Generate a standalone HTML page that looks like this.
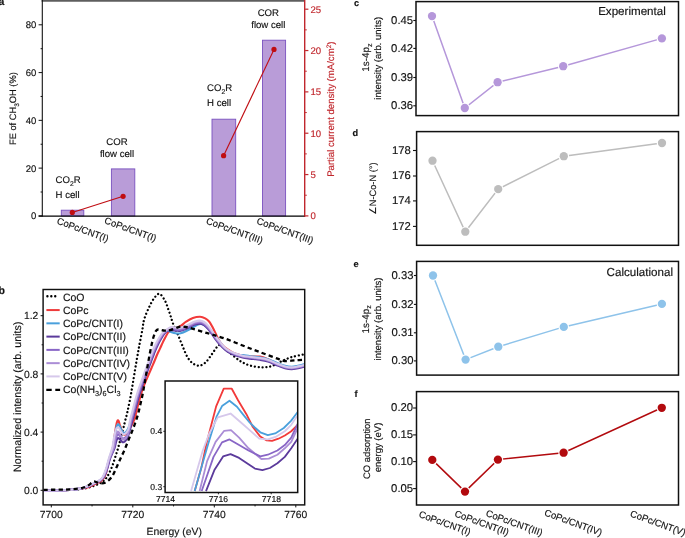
<!DOCTYPE html>
<html><head><meta charset="utf-8"><style>
html,body{margin:0;padding:0;background:#fff;overflow:hidden;width:685px;height:538px;}
svg{display:block;will-change:transform;font-family:"Liberation Sans",sans-serif;}
text{stroke-width:0.15px;text-rendering:geometricPrecision;}
</style></head><body>
<svg width="685" height="538" viewBox="0 0 685 538" fill="#111">
<text x="-1.5" y="4.6" font-size="10.5" font-weight="bold" stroke="#111">a</text>
<line x1="41.6" y1="0.85" x2="304.5" y2="0.85" stroke="#5e5e5e" stroke-width="1.7"/>
<line x1="42.3" y1="0" x2="42.3" y2="216.4" stroke="#111" stroke-width="1.1"/>
<line x1="304.7" y1="0" x2="304.7" y2="216.9" stroke="#c0272d" stroke-width="1.4"/>
<line x1="38.6" y1="215.90" x2="42.3" y2="215.90" stroke="#111" stroke-width="1"/>
<text x="36.3" y="219.30" font-size="9.5" text-anchor="end" fill="#111" stroke="#111">0</text>
<line x1="40.6" y1="192.01" x2="42.3" y2="192.01" stroke="#111" stroke-width="1"/>
<line x1="38.6" y1="168.12" x2="42.3" y2="168.12" stroke="#111" stroke-width="1"/>
<text x="36.3" y="171.53" font-size="9.5" text-anchor="end" fill="#111" stroke="#111">20</text>
<line x1="40.6" y1="144.24" x2="42.3" y2="144.24" stroke="#111" stroke-width="1"/>
<line x1="38.6" y1="120.35" x2="42.3" y2="120.35" stroke="#111" stroke-width="1"/>
<text x="36.3" y="123.75" font-size="9.5" text-anchor="end" fill="#111" stroke="#111">40</text>
<line x1="40.6" y1="96.46" x2="42.3" y2="96.46" stroke="#111" stroke-width="1"/>
<line x1="38.6" y1="72.58" x2="42.3" y2="72.58" stroke="#111" stroke-width="1"/>
<text x="36.3" y="75.98" font-size="9.5" text-anchor="end" fill="#111" stroke="#111">60</text>
<line x1="40.6" y1="48.69" x2="42.3" y2="48.69" stroke="#111" stroke-width="1"/>
<line x1="38.6" y1="24.80" x2="42.3" y2="24.80" stroke="#111" stroke-width="1"/>
<text x="36.3" y="28.20" font-size="9.5" text-anchor="end" fill="#111" stroke="#111">80</text>
<line x1="305.1" y1="215.90" x2="308.4" y2="215.90" stroke="#c0272d" stroke-width="1.2"/>
<text x="310.4" y="219.20" font-size="9.6" fill="#c0272d" stroke="#c0272d">0</text>
<line x1="305.1" y1="195.23" x2="306.8" y2="195.23" stroke="#c0272d" stroke-width="1"/>
<line x1="305.1" y1="174.56" x2="308.4" y2="174.56" stroke="#c0272d" stroke-width="1.2"/>
<text x="310.4" y="177.86" font-size="9.6" fill="#c0272d" stroke="#c0272d">5</text>
<line x1="305.1" y1="153.89" x2="306.8" y2="153.89" stroke="#c0272d" stroke-width="1"/>
<line x1="305.1" y1="133.22" x2="308.4" y2="133.22" stroke="#c0272d" stroke-width="1.2"/>
<text x="310.4" y="136.52" font-size="9.6" fill="#c0272d" stroke="#c0272d">10</text>
<line x1="305.1" y1="112.55" x2="306.8" y2="112.55" stroke="#c0272d" stroke-width="1"/>
<line x1="305.1" y1="91.88" x2="308.4" y2="91.88" stroke="#c0272d" stroke-width="1.2"/>
<text x="310.4" y="95.18" font-size="9.6" fill="#c0272d" stroke="#c0272d">15</text>
<line x1="305.1" y1="71.21" x2="306.8" y2="71.21" stroke="#c0272d" stroke-width="1"/>
<line x1="305.1" y1="50.54" x2="308.4" y2="50.54" stroke="#c0272d" stroke-width="1.2"/>
<text x="310.4" y="53.84" font-size="9.6" fill="#c0272d" stroke="#c0272d">20</text>
<line x1="305.1" y1="29.87" x2="306.8" y2="29.87" stroke="#c0272d" stroke-width="1"/>
<line x1="305.1" y1="9.20" x2="308.4" y2="9.20" stroke="#c0272d" stroke-width="1.2"/>
<text x="310.4" y="12.50" font-size="9.6" fill="#c0272d" stroke="#c0272d">25</text>
<rect x="61.30" y="210.20" width="22.50" height="5.70" fill="#b99cd8" stroke="#7a52c0" stroke-width="0.9"/>
<rect x="111.40" y="168.90" width="23.40" height="47.00" fill="#b99cd8" stroke="#7a52c0" stroke-width="0.9"/>
<rect x="212.00" y="119.20" width="23.70" height="96.70" fill="#b99cd8" stroke="#7a52c0" stroke-width="0.9"/>
<rect x="262.50" y="40.20" width="23.10" height="175.70" fill="#b99cd8" stroke="#7a52c0" stroke-width="0.9"/>
<line x1="38.6" y1="216.2" x2="304.3" y2="216.2" stroke="#000" stroke-width="1.3"/>
<path d="M72.30,212.40 L123.10,196.30" fill="none" stroke="#c00d12" stroke-width="1.1"/>
<path d="M223.60,155.70 L274.00,49.40" fill="none" stroke="#c00d12" stroke-width="1.1"/>
<circle cx="72.30" cy="212.40" r="2.6" fill="#c00d12"/>
<circle cx="123.10" cy="196.30" r="2.6" fill="#c00d12"/>
<circle cx="223.60" cy="155.70" r="2.6" fill="#c00d12"/>
<circle cx="274.00" cy="49.40" r="2.6" fill="#c00d12"/>
<text x="55.60" y="183.20" font-size="9.6" stroke="#111">CO<tspan font-size="6.8" dy="3.0">2</tspan><tspan dy="-3.0">R</tspan></text>
<text x="55.6" y="197.6" font-size="9.6" stroke="#111">H cell</text>
<text x="117" y="145.1" font-size="9.6" text-anchor="middle" stroke="#111">COR</text>
<text x="117" y="157.3" font-size="9.6" text-anchor="middle" stroke="#111">flow cell</text>
<text x="207.10" y="91.40" font-size="9.6" stroke="#111">CO<tspan font-size="6.8" dy="3.0">2</tspan><tspan dy="-3.0">R</tspan></text>
<text x="207.1" y="106.1" font-size="9.6" stroke="#111">H cell</text>
<text x="268.3" y="16.3" font-size="9.6" text-anchor="middle" stroke="#111">COR</text>
<text x="268.3" y="28.4" font-size="9.6" text-anchor="middle" stroke="#111">flow cell</text>
<text transform="translate(56.20,223.50) rotate(20)" font-size="9.5" stroke="#111">CoPc/CNT(I)</text>
<text transform="translate(103.80,223.10) rotate(20)" font-size="9.5" stroke="#111">CoPc/CNT(I)</text>
<text transform="translate(205.50,223.50) rotate(20)" font-size="9.5" stroke="#111">CoPc/CNT(III)</text>
<text transform="translate(256.00,223.50) rotate(20)" font-size="9.5" stroke="#111">CoPc/CNT(III)</text>
<text transform="translate(16.2,108.6) rotate(-90)" font-size="9.3" text-anchor="middle" stroke="#111">FE of CH<tspan font-size="6.5" dy="2.5">3</tspan><tspan dy="-2.5">OH (%)</tspan></text>
<text transform="translate(334.4,109.2) rotate(-90)" font-size="9.6" text-anchor="middle" fill="#c0272d" stroke="#c0272d">Partial current density (mA/cm<tspan font-size="6.5" dy="-3.3">2</tspan><tspan dy="3.3">)</tspan></text>
<text x="353.90" y="5.80" font-size="9.2" font-weight="bold" stroke="#111">c</text>
<rect x="416.00" y="1.60" width="262.50" height="114.00" fill="none" stroke="#111" stroke-width="1.5"/>
<line x1="413.30" y1="105.80" x2="416.00" y2="105.80" stroke="#111" stroke-width="1.1"/>
<text x="413.10" y="109.20" font-size="11.3" text-anchor="end" stroke="#111">0.36</text>
<line x1="413.30" y1="77.50" x2="416.00" y2="77.50" stroke="#111" stroke-width="1.1"/>
<text x="413.10" y="80.90" font-size="11.3" text-anchor="end" stroke="#111">0.39</text>
<line x1="413.30" y1="48.40" x2="416.00" y2="48.40" stroke="#111" stroke-width="1.1"/>
<text x="413.10" y="51.80" font-size="11.3" text-anchor="end" stroke="#111">0.42</text>
<line x1="413.30" y1="20.50" x2="416.00" y2="20.50" stroke="#111" stroke-width="1.1"/>
<text x="413.10" y="23.90" font-size="11.3" text-anchor="end" stroke="#111">0.45</text>
<path d="M432.00,16.10 L464.80,108.00 L497.60,82.20 L563.20,66.20 L661.90,38.40" fill="none" stroke="#b597da" stroke-width="1.5"/>
<circle cx="432.00" cy="16.10" r="5.3" fill="#fff"/>
<circle cx="432.00" cy="16.10" r="4.15" fill="#b597da"/>
<circle cx="464.80" cy="108.00" r="5.3" fill="#fff"/>
<circle cx="464.80" cy="108.00" r="4.15" fill="#b597da"/>
<circle cx="497.60" cy="82.20" r="5.3" fill="#fff"/>
<circle cx="497.60" cy="82.20" r="4.15" fill="#b597da"/>
<circle cx="563.20" cy="66.20" r="5.3" fill="#fff"/>
<circle cx="563.20" cy="66.20" r="4.15" fill="#b597da"/>
<circle cx="661.90" cy="38.40" r="5.3" fill="#fff"/>
<circle cx="661.90" cy="38.40" r="4.15" fill="#b597da"/>
<text transform="translate(369.40,57.60) rotate(-90)" font-size="9.90" text-anchor="middle" stroke="#111">1s-4p<tspan font-size="7" dy="2.3">z</tspan></text>
<text transform="translate(381.00,58.20) rotate(-90)" font-size="9.50" text-anchor="middle" stroke="#111">intensity (arb. units)</text>
<text x="665.80" y="15.20" font-size="11.6" text-anchor="end" stroke="#111">Experimental</text>
<text x="352.60" y="135.80" font-size="9.2" font-weight="bold" stroke="#111">d</text>
<rect x="416.60" y="131.60" width="261.90" height="113.70" fill="none" stroke="#111" stroke-width="1.5"/>
<line x1="413.00" y1="226.40" x2="416.60" y2="226.40" stroke="#111" stroke-width="1.1"/>
<text x="410.80" y="229.80" font-size="11.3" text-anchor="end" stroke="#111">172</text>
<line x1="413.00" y1="200.90" x2="416.60" y2="200.90" stroke="#111" stroke-width="1.1"/>
<text x="410.80" y="204.30" font-size="11.3" text-anchor="end" stroke="#111">174</text>
<line x1="413.00" y1="176.00" x2="416.60" y2="176.00" stroke="#111" stroke-width="1.1"/>
<text x="410.80" y="179.40" font-size="11.3" text-anchor="end" stroke="#111">176</text>
<line x1="413.00" y1="150.50" x2="416.60" y2="150.50" stroke="#111" stroke-width="1.1"/>
<text x="410.80" y="153.90" font-size="11.3" text-anchor="end" stroke="#111">178</text>
<path d="M432.50,160.70 L465.30,231.70 L498.20,189.10 L563.80,156.20 L662.00,143.00" fill="none" stroke="#bdbdbd" stroke-width="1.5"/>
<circle cx="432.50" cy="160.70" r="5.3" fill="#fff"/>
<circle cx="432.50" cy="160.70" r="4.15" fill="#bdbdbd"/>
<circle cx="465.30" cy="231.70" r="5.3" fill="#fff"/>
<circle cx="465.30" cy="231.70" r="4.15" fill="#bdbdbd"/>
<circle cx="498.20" cy="189.10" r="5.3" fill="#fff"/>
<circle cx="498.20" cy="189.10" r="4.15" fill="#bdbdbd"/>
<circle cx="563.80" cy="156.20" r="5.3" fill="#fff"/>
<circle cx="563.80" cy="156.20" r="4.15" fill="#bdbdbd"/>
<circle cx="662.00" cy="143.00" r="5.3" fill="#fff"/>
<circle cx="662.00" cy="143.00" r="4.15" fill="#bdbdbd"/>
<text transform="translate(376.00,188.50) rotate(-90)" font-size="9.30" text-anchor="middle" stroke="#111">∠N-Co-N (°)</text>
<text x="353.60" y="266.90" font-size="9.2" font-weight="bold" stroke="#111">e</text>
<rect x="416.60" y="261.40" width="261.90" height="113.70" fill="none" stroke="#111" stroke-width="1.5"/>
<line x1="413.90" y1="360.90" x2="416.60" y2="360.90" stroke="#111" stroke-width="1.1"/>
<text x="413.50" y="364.30" font-size="11.3" text-anchor="end" stroke="#111">0.30</text>
<line x1="413.90" y1="332.80" x2="416.60" y2="332.80" stroke="#111" stroke-width="1.1"/>
<text x="413.50" y="336.20" font-size="11.3" text-anchor="end" stroke="#111">0.31</text>
<line x1="413.90" y1="304.40" x2="416.60" y2="304.40" stroke="#111" stroke-width="1.1"/>
<text x="413.50" y="307.80" font-size="11.3" text-anchor="end" stroke="#111">0.32</text>
<line x1="413.90" y1="275.50" x2="416.60" y2="275.50" stroke="#111" stroke-width="1.1"/>
<text x="413.50" y="278.90" font-size="11.3" text-anchor="end" stroke="#111">0.33</text>
<path d="M433.00,275.50 L465.60,359.60 L498.30,346.70 L563.80,326.90 L661.90,303.90" fill="none" stroke="#8ec3ea" stroke-width="1.5"/>
<circle cx="433.00" cy="275.50" r="5.3" fill="#fff"/>
<circle cx="433.00" cy="275.50" r="4.15" fill="#8ec3ea"/>
<circle cx="465.60" cy="359.60" r="5.3" fill="#fff"/>
<circle cx="465.60" cy="359.60" r="4.15" fill="#8ec3ea"/>
<circle cx="498.30" cy="346.70" r="5.3" fill="#fff"/>
<circle cx="498.30" cy="346.70" r="4.15" fill="#8ec3ea"/>
<circle cx="563.80" cy="326.90" r="5.3" fill="#fff"/>
<circle cx="563.80" cy="326.90" r="4.15" fill="#8ec3ea"/>
<circle cx="661.90" cy="303.90" r="5.3" fill="#fff"/>
<circle cx="661.90" cy="303.90" r="4.15" fill="#8ec3ea"/>
<text transform="translate(368.60,319.30) rotate(-90)" font-size="9.90" text-anchor="middle" stroke="#111">1s-4p<tspan font-size="7" dy="2.3">z</tspan></text>
<text transform="translate(381.00,319.00) rotate(-90)" font-size="9.50" text-anchor="middle" stroke="#111">intensity (arb. units)</text>
<text x="673.00" y="276.30" font-size="11.6" text-anchor="end" stroke="#111">Calculational</text>
<text x="354.50" y="396.70" font-size="9.2" font-weight="bold" stroke="#111">f</text>
<rect x="416.50" y="391.60" width="262.00" height="113.40" fill="none" stroke="#111" stroke-width="1.5"/>
<line x1="413.10" y1="488.60" x2="416.50" y2="488.60" stroke="#111" stroke-width="1.1"/>
<text x="413.10" y="492.00" font-size="11.3" text-anchor="end" stroke="#111">0.05</text>
<line x1="413.10" y1="461.60" x2="416.50" y2="461.60" stroke="#111" stroke-width="1.1"/>
<text x="413.10" y="465.00" font-size="11.3" text-anchor="end" stroke="#111">0.10</text>
<line x1="413.10" y1="434.90" x2="416.50" y2="434.90" stroke="#111" stroke-width="1.1"/>
<text x="413.10" y="438.30" font-size="11.3" text-anchor="end" stroke="#111">0.15</text>
<line x1="413.10" y1="408.00" x2="416.50" y2="408.00" stroke="#111" stroke-width="1.1"/>
<text x="413.10" y="411.40" font-size="11.3" text-anchor="end" stroke="#111">0.20</text>
<path d="M432.30,459.90 L465.00,491.60 L497.90,459.60 L563.60,452.70 L661.80,407.80" fill="none" stroke="#b20a0e" stroke-width="1.5"/>
<circle cx="432.30" cy="459.90" r="5.3" fill="#fff"/>
<circle cx="432.30" cy="459.90" r="4.15" fill="#b20a0e"/>
<circle cx="465.00" cy="491.60" r="5.3" fill="#fff"/>
<circle cx="465.00" cy="491.60" r="4.15" fill="#b20a0e"/>
<circle cx="497.90" cy="459.60" r="5.3" fill="#fff"/>
<circle cx="497.90" cy="459.60" r="4.15" fill="#b20a0e"/>
<circle cx="563.60" cy="452.70" r="5.3" fill="#fff"/>
<circle cx="563.60" cy="452.70" r="4.15" fill="#b20a0e"/>
<circle cx="661.80" cy="407.80" r="5.3" fill="#fff"/>
<circle cx="661.80" cy="407.80" r="4.15" fill="#b20a0e"/>
<text transform="translate(369.80,448.70) rotate(-90)" font-size="9.40" text-anchor="middle" stroke="#111">CO adsorption</text>
<text transform="translate(380.60,447.50) rotate(-90)" font-size="9.50" text-anchor="middle" stroke="#111">energy (eV)</text>
<text transform="translate(418.20,516.80) rotate(20)" font-size="9.5" stroke="#111">CoPc/CNT(I)</text>
<text transform="translate(453.90,516.20) rotate(20)" font-size="9.5" stroke="#111">CoPc/CNT(II)</text>
<text transform="translate(485.20,515.80) rotate(20)" font-size="9.5" stroke="#111">CoPc/CNT(III)</text>
<text transform="translate(543.70,515.20) rotate(20)" font-size="9.5" stroke="#111">CoPc/CNT(IV)</text>
<text transform="translate(629.60,516.20) rotate(20)" font-size="9.5" stroke="#111">CoPc/CNT(V)</text>
<text x="-1.4" y="293.7" font-size="10.5" font-weight="bold" stroke="#111">b</text>
<defs><clipPath id="cb"><rect x="43.10" y="289.50" width="261.60" height="215.40"/></clipPath><clipPath id="ci"><rect x="165.1" y="381" width="132.6" height="111.7"/></clipPath></defs>
<g clip-path="url(#cb)" fill="none" stroke-linejoin="round">
<path d="M43.50,490.30 C46.25,490.28 54.75,490.32 60.00,490.20 C65.25,490.08 70.83,489.90 75.00,489.60 C79.17,489.30 82.00,488.97 85.00,488.40 C88.00,487.83 90.67,486.97 93.00,486.20 C95.33,485.43 97.33,484.63 99.00,483.80 C100.67,482.97 101.83,482.10 103.00,481.20 C104.17,480.30 105.00,479.68 106.00,478.40 C107.00,477.12 107.95,475.57 109.00,473.50 C110.05,471.43 111.30,468.62 112.30,466.00 C113.30,463.38 114.08,460.63 115.00,457.80 C115.92,454.97 116.78,452.50 117.80,449.00 C118.82,445.50 119.98,441.07 121.10,436.80 C122.22,432.53 123.47,427.48 124.50,423.40 C125.53,419.32 126.37,416.38 127.30,412.30 C128.23,408.22 129.18,403.70 130.10,398.90 C131.02,394.10 131.82,389.32 132.80,383.50 C133.78,377.68 134.93,370.25 136.00,364.00 C137.07,357.75 138.13,351.75 139.20,346.00 C140.27,340.25 141.60,333.83 142.40,329.50 C143.20,325.17 143.00,323.47 144.00,320.00 C145.00,316.53 146.75,312.28 148.40,308.70 C150.05,305.12 152.05,300.98 153.90,298.50 C155.75,296.02 157.65,293.42 159.50,293.80 C161.35,294.18 163.55,298.25 165.00,300.80 C166.45,303.35 167.23,306.47 168.20,309.10 C169.17,311.73 169.97,314.12 170.80,316.60 C171.63,319.08 172.05,321.08 173.20,324.00 C174.35,326.92 176.15,330.43 177.70,334.10 C179.25,337.77 180.88,342.18 182.50,346.00 C184.12,349.82 185.65,354.08 187.40,357.00 C189.15,359.92 190.97,362.05 193.00,363.50 C195.03,364.95 197.43,365.95 199.60,365.70 C201.77,365.45 203.93,363.95 206.00,362.00 C208.07,360.05 210.17,356.50 212.00,354.00 C213.83,351.50 215.55,348.50 217.00,347.00 C218.45,345.50 219.20,344.58 220.70,345.00 C222.20,345.42 223.95,347.75 226.00,349.50 C228.05,351.25 230.50,353.50 233.00,355.50 C235.50,357.50 238.17,359.83 241.00,361.50 C243.83,363.17 246.53,364.52 250.00,365.50 C253.47,366.48 258.13,367.32 261.80,367.40 C265.47,367.48 268.63,367.07 272.00,366.00 C275.37,364.93 278.67,362.50 282.00,361.00 C285.33,359.50 288.08,358.17 292.00,357.00 C295.92,355.83 303.25,354.50 305.50,354.00" stroke="#000" stroke-width="2.3" stroke-dasharray="0.01,3.85" stroke-linecap="round"/>
<path d="M43.50,490.60 C45.42,490.58 51.42,490.57 55.00,490.50 C58.58,490.43 62.00,490.35 65.00,490.20 C68.00,490.05 70.50,489.87 73.00,489.60 C75.50,489.33 77.75,488.90 80.00,488.60 C82.25,488.30 84.58,488.27 86.50,487.80 C88.42,487.33 90.00,486.47 91.50,485.80 C93.00,485.13 94.25,484.42 95.50,483.80 C96.75,483.18 98.00,482.63 99.00,482.10 C100.00,481.57 100.67,481.32 101.50,480.60 C102.33,479.88 103.25,479.02 104.00,477.80 C104.75,476.58 105.42,475.18 106.00,473.30 C106.58,471.42 106.92,468.88 107.50,466.50 C108.08,464.12 108.61,462.12 109.50,459.00 C110.39,455.88 112.13,450.69 112.86,447.79 C113.59,444.89 113.57,443.80 113.89,441.61 C114.21,439.42 114.39,437.31 114.77,434.65 C115.15,431.99 115.72,427.93 116.15,425.64 C116.58,423.34 116.94,421.66 117.34,420.87 C117.74,420.08 118.19,420.36 118.56,420.87 C118.93,421.38 119.17,422.83 119.55,423.96 C119.93,425.08 120.46,426.43 120.84,427.60 C121.22,428.77 121.47,429.98 121.83,430.97 C122.18,431.95 122.62,432.90 122.98,433.49 C123.34,434.08 123.67,434.31 123.97,434.50 C124.27,434.68 124.49,434.69 124.79,434.61 C125.10,434.54 125.45,434.28 125.78,434.05 C126.11,433.82 126.44,433.54 126.77,433.21 C127.10,432.88 127.43,432.55 127.76,432.09 C128.09,431.62 127.68,432.42 128.75,430.40 C129.82,428.39 132.72,423.90 134.20,420.00 C135.68,416.10 136.35,411.68 137.60,407.00 C138.85,402.32 140.47,395.90 141.70,391.90 C142.93,387.90 143.88,385.78 145.00,383.00 C146.12,380.22 147.32,377.70 148.40,375.20 C149.48,372.70 150.52,370.28 151.50,368.00 C152.48,365.72 153.32,363.83 154.30,361.50 C155.28,359.17 156.43,356.18 157.40,354.00 C158.37,351.82 159.22,350.30 160.10,348.40 C160.98,346.50 161.83,344.42 162.70,342.60 C163.57,340.78 164.42,339.17 165.30,337.50 C166.18,335.83 167.12,333.75 168.00,332.60 C168.88,331.45 169.35,331.28 170.60,330.60 C171.85,329.92 173.82,329.27 175.50,328.50 C177.18,327.73 178.98,327.10 180.70,326.00 C182.42,324.90 183.77,323.22 185.80,321.90 C187.83,320.58 190.52,318.95 192.90,318.10 C195.28,317.25 198.05,316.75 200.10,316.80 C202.15,316.85 203.67,317.57 205.20,318.40 C206.73,319.23 208.13,320.45 209.30,321.80 C210.47,323.15 211.27,324.80 212.20,326.50 C213.13,328.20 213.83,329.78 214.90,332.00 C215.97,334.22 217.25,337.50 218.60,339.80 C219.95,342.10 221.45,344.17 223.00,345.80 C224.55,347.43 226.23,348.47 227.90,349.60 C229.57,350.73 230.98,351.70 233.00,352.60 C235.02,353.50 237.17,354.33 240.00,355.00 C242.83,355.67 246.67,356.33 250.00,356.60 C253.33,356.87 257.00,356.17 260.00,356.60 C263.00,357.03 265.07,357.97 268.00,359.20 C270.93,360.43 274.77,362.73 277.60,364.00 C280.43,365.27 282.67,366.20 285.00,366.80 C287.33,367.40 289.43,367.63 291.60,367.60 C293.77,367.57 295.68,367.07 298.00,366.60 C300.32,366.13 304.25,365.10 305.50,364.80" stroke="#f23a3a" stroke-width="2.1"/>
<path d="M43.20,490.60 C45.12,490.58 51.12,490.57 54.70,490.50 C58.28,490.43 61.70,490.35 64.70,490.20 C67.70,490.05 70.20,489.87 72.70,489.60 C75.20,489.33 77.53,489.03 79.70,488.60 C81.87,488.17 83.87,487.60 85.70,487.00 C87.53,486.40 89.20,485.67 90.70,485.00 C92.20,484.33 93.45,483.62 94.70,483.00 C95.95,482.38 97.20,481.83 98.20,481.30 C99.20,480.77 99.87,480.52 100.70,479.80 C101.53,479.08 102.45,478.22 103.20,477.00 C103.95,475.78 104.53,474.25 105.20,472.50 C105.87,470.75 106.53,468.75 107.20,466.50 C107.87,464.25 108.26,462.12 109.20,459.00 C110.14,455.88 112.08,450.69 112.86,447.79 C113.64,444.89 113.55,443.66 113.89,441.61 C114.24,439.55 114.54,437.69 114.93,435.45 C115.33,433.21 115.89,429.82 116.25,428.16 C116.61,426.50 116.75,426.15 117.08,425.47 C117.41,424.79 117.84,424.04 118.23,424.07 C118.61,424.09 119.03,425.03 119.38,425.64 C119.74,426.24 120.01,427.01 120.34,427.71 C120.67,428.42 121.06,429.28 121.36,429.84 C121.66,430.41 121.86,430.68 122.13,431.10 C122.40,431.52 122.65,432.03 122.98,432.36 C123.32,432.70 123.76,433.05 124.14,433.10 C124.52,433.15 124.87,432.96 125.28,432.65 C125.69,432.34 126.20,431.79 126.61,431.23 C127.02,430.67 127.40,429.99 127.75,429.29 C128.11,428.59 128.20,428.58 128.76,427.03 C129.31,425.48 130.23,423.01 131.10,420.00 C131.97,416.99 133.02,412.75 134.00,409.00 C134.98,405.25 136.02,400.95 137.00,397.50 C137.98,394.05 138.93,391.18 139.90,388.30 C140.87,385.42 141.75,383.17 142.80,380.20 C143.85,377.23 145.08,373.57 146.20,370.50 C147.32,367.43 148.47,364.55 149.50,361.80 C150.53,359.05 151.42,356.52 152.40,354.00 C153.38,351.48 154.23,349.20 155.40,346.70 C156.57,344.20 158.15,341.18 159.40,339.00 C160.65,336.82 161.73,335.02 162.90,333.60 C164.07,332.18 165.15,330.80 166.40,330.50 C167.65,330.20 168.88,331.33 170.40,331.80 C171.92,332.27 173.78,333.05 175.50,333.30 C177.22,333.55 178.98,333.63 180.70,333.30 C182.42,332.97 183.77,332.27 185.80,331.30 C187.83,330.33 190.70,328.68 192.90,327.50 C195.10,326.32 197.12,324.62 199.00,324.20 C200.88,323.78 202.48,324.17 204.20,325.00 C205.92,325.83 207.43,327.28 209.30,329.20 C211.17,331.12 213.62,334.32 215.40,336.50 C217.18,338.68 218.40,340.28 220.00,342.30 C221.60,344.32 223.33,346.98 225.00,348.60 C226.67,350.22 228.17,351.00 230.00,352.00 C231.83,353.00 233.90,354.08 236.00,354.60 C238.10,355.12 240.27,354.83 242.60,355.10 C244.93,355.37 247.10,355.82 250.00,356.20 C252.90,356.58 257.00,356.90 260.00,357.40 C263.00,357.90 265.07,358.23 268.00,359.20 C270.93,360.17 274.77,362.10 277.60,363.20 C280.43,364.30 282.67,365.20 285.00,365.80 C287.33,366.40 289.43,366.80 291.60,366.80 C293.77,366.80 295.68,366.27 298.00,365.80 C300.32,365.33 304.25,364.30 305.50,364.00" stroke="#4aa0dc" stroke-width="2.1"/>
<path d="M43.95,490.60 C45.87,490.58 51.87,490.57 55.45,490.50 C59.03,490.43 62.45,490.35 65.45,490.20 C68.45,490.05 70.95,489.87 73.45,489.60 C75.95,489.33 78.28,489.03 80.45,488.60 C82.62,488.17 84.62,487.60 86.45,487.00 C88.28,486.40 89.95,485.67 91.45,485.00 C92.95,484.33 94.20,483.62 95.45,483.00 C96.70,482.38 97.95,481.83 98.95,481.30 C99.95,480.77 100.62,480.52 101.45,479.80 C102.28,479.08 103.20,478.22 103.95,477.00 C104.70,475.78 105.28,474.25 105.95,472.50 C106.62,470.75 107.28,468.75 107.95,466.50 C108.62,464.25 108.84,462.12 109.95,459.00 C111.06,455.88 113.61,450.59 114.60,447.79 C115.60,444.99 115.48,443.70 115.92,442.19 C116.36,440.67 116.83,439.39 117.24,438.71 C117.65,438.02 117.98,438.02 118.39,438.09 C118.81,438.15 119.25,438.64 119.71,439.09 C120.17,439.53 120.76,440.31 121.16,440.78 C121.57,441.25 121.79,441.64 122.15,441.90 C122.51,442.15 122.92,442.32 123.31,442.29 C123.69,442.26 124.08,442.04 124.47,441.74 C124.85,441.44 125.24,440.99 125.62,440.50 C126.01,440.02 126.41,439.48 126.77,438.82 C127.12,438.17 127.43,437.36 127.76,436.56 C128.09,435.77 127.94,436.80 128.75,434.04 C129.56,431.28 131.47,424.17 132.60,420.00 C133.73,415.83 134.52,412.75 135.50,409.00 C136.48,405.25 137.52,400.95 138.50,397.50 C139.48,394.05 140.43,391.18 141.40,388.30 C142.37,385.42 143.25,383.17 144.30,380.20 C145.35,377.23 146.58,373.57 147.70,370.50 C148.82,367.43 149.97,364.55 151.00,361.80 C152.03,359.05 152.92,356.52 153.90,354.00 C154.88,351.48 155.73,349.20 156.90,346.70 C158.07,344.20 159.65,341.18 160.90,339.00 C162.15,336.82 163.23,335.02 164.40,333.60 C165.57,332.18 166.77,331.07 167.90,330.50 C169.03,329.93 169.85,330.17 171.20,330.20 C172.55,330.23 174.53,330.58 176.00,330.70 C177.47,330.82 178.50,331.12 180.00,330.90 C181.50,330.68 183.33,330.07 185.00,329.40 C186.67,328.73 188.33,327.72 190.00,326.90 C191.67,326.08 193.33,325.03 195.00,324.50 C196.67,323.97 198.50,323.60 200.00,323.70 C201.50,323.80 202.67,324.27 204.00,325.10 C205.33,325.93 206.67,327.20 208.00,328.70 C209.33,330.20 210.67,332.23 212.00,334.10 C213.33,335.97 214.67,338.10 216.00,339.90 C217.33,341.70 218.50,343.28 220.00,344.90 C221.50,346.52 223.33,348.25 225.00,349.60 C226.67,350.95 228.17,352.00 230.00,353.00 C231.83,354.00 233.90,354.85 236.00,355.60 C238.10,356.35 240.27,357.00 242.60,357.50 C244.93,358.00 247.10,358.22 250.00,358.60 C252.90,358.98 257.00,359.30 260.00,359.80 C263.00,360.30 265.07,360.63 268.00,361.60 C270.93,362.57 274.77,364.50 277.60,365.60 C280.43,366.70 282.67,367.60 285.00,368.20 C287.33,368.80 289.43,369.20 291.60,369.20 C293.77,369.20 295.68,368.67 298.00,368.20 C300.32,367.73 304.25,366.70 305.50,366.40" stroke="#5b3a9b" stroke-width="2.1"/>
<path d="M43.50,490.60 C45.42,490.58 51.42,490.57 55.00,490.50 C58.58,490.43 62.00,490.35 65.00,490.20 C68.00,490.05 70.50,489.87 73.00,489.60 C75.50,489.33 77.83,489.03 80.00,488.60 C82.17,488.17 84.17,487.60 86.00,487.00 C87.83,486.40 89.50,485.67 91.00,485.00 C92.50,484.33 93.75,483.62 95.00,483.00 C96.25,482.38 97.50,481.83 98.50,481.30 C99.50,480.77 100.17,480.52 101.00,479.80 C101.83,479.08 102.75,478.22 103.50,477.00 C104.25,475.78 104.83,474.25 105.50,472.50 C106.17,470.75 106.83,468.75 107.50,466.50 C108.17,464.25 108.43,462.12 109.50,459.00 C110.57,455.88 113.05,450.40 113.94,447.79 C114.83,445.18 114.54,444.81 114.85,443.31 C115.15,441.82 115.39,440.21 115.76,438.82 C116.13,437.44 116.66,435.77 117.07,435.00 C117.48,434.24 117.79,434.11 118.23,434.23 C118.67,434.35 119.22,435.24 119.71,435.72 C120.20,436.21 120.62,436.65 121.16,437.14 C121.71,437.64 122.49,438.51 122.98,438.69 C123.48,438.88 123.70,438.50 124.14,438.25 C124.58,437.99 125.19,437.56 125.62,437.14 C126.06,436.72 126.41,436.29 126.77,435.72 C127.12,435.16 127.43,434.70 127.76,433.77 C128.09,432.84 128.09,432.42 128.75,430.13 C129.41,427.84 130.72,423.52 131.70,420.00 C132.68,416.48 133.62,412.75 134.60,409.00 C135.58,405.25 136.62,400.95 137.60,397.50 C138.58,394.05 139.53,391.18 140.50,388.30 C141.47,385.42 142.35,383.17 143.40,380.20 C144.45,377.23 145.68,373.57 146.80,370.50 C147.92,367.43 149.07,364.55 150.10,361.80 C151.13,359.05 152.02,356.52 153.00,354.00 C153.98,351.48 154.83,349.20 156.00,346.70 C157.17,344.20 158.75,341.18 160.00,339.00 C161.25,336.82 162.33,335.02 163.50,333.60 C164.67,332.18 165.72,331.22 167.00,330.50 C168.28,329.78 169.70,329.42 171.20,329.30 C172.70,329.18 174.53,329.68 176.00,329.80 C177.47,329.92 178.50,330.22 180.00,330.00 C181.50,329.78 183.33,329.17 185.00,328.50 C186.67,327.83 188.33,326.82 190.00,326.00 C191.67,325.18 193.33,324.13 195.00,323.60 C196.67,323.07 198.50,322.70 200.00,322.80 C201.50,322.90 202.67,323.37 204.00,324.20 C205.33,325.03 206.67,326.30 208.00,327.80 C209.33,329.30 210.67,331.33 212.00,333.20 C213.33,335.07 214.67,337.20 216.00,339.00 C217.33,340.80 218.50,342.37 220.00,344.00 C221.50,345.63 223.33,347.43 225.00,348.80 C226.67,350.17 228.17,351.20 230.00,352.20 C231.83,353.20 233.90,354.05 236.00,354.80 C238.10,355.55 240.27,356.20 242.60,356.70 C244.93,357.20 247.10,357.42 250.00,357.80 C252.90,358.18 257.00,358.50 260.00,359.00 C263.00,359.50 265.07,359.83 268.00,360.80 C270.93,361.77 274.77,363.70 277.60,364.80 C280.43,365.90 282.67,366.80 285.00,367.40 C287.33,368.00 289.43,368.40 291.60,368.40 C293.77,368.40 295.68,367.87 298.00,367.40 C300.32,366.93 304.25,365.90 305.50,365.60" stroke="#8966c6" stroke-width="2.1"/>
<path d="M43.15,490.60 C45.07,490.58 51.07,490.57 54.65,490.50 C58.23,490.43 61.65,490.35 64.65,490.20 C67.65,490.05 70.15,489.87 72.65,489.60 C75.15,489.33 77.48,489.03 79.65,488.60 C81.82,488.17 83.82,487.60 85.65,487.00 C87.48,486.40 89.15,485.67 90.65,485.00 C92.15,484.33 93.40,483.62 94.65,483.00 C95.90,482.38 97.15,481.83 98.15,481.30 C99.15,480.77 99.82,480.52 100.65,479.80 C101.48,479.08 102.40,478.22 103.15,477.00 C103.90,475.78 104.48,474.25 105.15,472.50 C105.82,470.75 106.48,468.75 107.15,466.50 C107.82,464.25 108.07,462.12 109.15,459.00 C110.23,455.88 112.68,450.97 113.61,447.79 C114.55,444.61 114.36,442.08 114.77,439.93 C115.18,437.78 115.64,436.21 116.08,434.88 C116.52,433.56 117.01,432.48 117.41,431.97 C117.81,431.46 118.08,431.51 118.46,431.81 C118.84,432.11 119.26,432.98 119.71,433.77 C120.16,434.56 120.59,435.63 121.16,436.56 C121.74,437.50 122.63,438.92 123.15,439.38 C123.68,439.83 123.88,439.46 124.30,439.27 C124.71,439.08 125.21,438.70 125.62,438.25 C126.03,437.79 126.41,437.13 126.77,436.56 C127.12,436.00 127.43,435.77 127.76,434.88 C128.09,434.00 128.21,433.71 128.75,431.23 C129.29,428.75 130.14,423.71 131.00,420.00 C131.86,416.29 132.92,412.75 133.90,409.00 C134.88,405.25 135.92,400.95 136.90,397.50 C137.88,394.05 138.83,391.18 139.80,388.30 C140.77,385.42 141.65,383.17 142.70,380.20 C143.75,377.23 144.98,373.57 146.10,370.50 C147.22,367.43 148.37,364.55 149.40,361.80 C150.43,359.05 151.32,356.52 152.30,354.00 C153.28,351.48 154.13,349.20 155.30,346.70 C156.47,344.20 158.05,341.18 159.30,339.00 C160.55,336.82 161.63,335.02 162.80,333.60 C163.97,332.18 164.90,331.42 166.30,330.50 C167.70,329.58 169.58,328.42 171.20,328.10 C172.82,327.78 174.53,328.48 176.00,328.60 C177.47,328.72 178.50,329.02 180.00,328.80 C181.50,328.58 183.33,327.97 185.00,327.30 C186.67,326.63 188.33,325.62 190.00,324.80 C191.67,323.98 193.33,322.93 195.00,322.40 C196.67,321.87 198.50,321.50 200.00,321.60 C201.50,321.70 202.67,322.17 204.00,323.00 C205.33,323.83 206.67,325.10 208.00,326.60 C209.33,328.10 210.67,330.13 212.00,332.00 C213.33,333.87 214.67,336.00 216.00,337.80 C217.33,339.60 218.50,341.05 220.00,342.80 C221.50,344.55 223.33,346.82 225.00,348.30 C226.67,349.78 228.17,350.70 230.00,351.70 C231.83,352.70 233.90,353.55 236.00,354.30 C238.10,355.05 240.27,355.70 242.60,356.20 C244.93,356.70 247.10,356.92 250.00,357.30 C252.90,357.68 257.00,358.00 260.00,358.50 C263.00,359.00 265.07,359.33 268.00,360.30 C270.93,361.27 274.77,363.20 277.60,364.30 C280.43,365.40 282.67,366.30 285.00,366.90 C287.33,367.50 289.43,367.90 291.60,367.90 C293.77,367.90 295.68,367.37 298.00,366.90 C300.32,366.43 304.25,365.40 305.50,365.10" stroke="#ab8dd6" stroke-width="2.1"/>
<path d="M42.70,490.60 C44.62,490.58 50.62,490.57 54.20,490.50 C57.78,490.43 61.20,490.35 64.20,490.20 C67.20,490.05 69.70,489.87 72.20,489.60 C74.70,489.33 77.03,489.03 79.20,488.60 C81.37,488.17 83.37,487.60 85.20,487.00 C87.03,486.40 88.70,485.67 90.20,485.00 C91.70,484.33 92.95,483.62 94.20,483.00 C95.45,482.38 96.70,481.83 97.70,481.30 C98.70,480.77 99.37,480.52 100.20,479.80 C101.03,479.08 101.95,478.22 102.70,477.00 C103.45,475.78 104.03,474.25 104.70,472.50 C105.37,470.75 106.03,468.75 106.70,466.50 C107.37,464.25 107.77,462.12 108.70,459.00 C109.63,455.88 111.55,450.54 112.30,447.79 C113.05,445.04 112.90,444.25 113.20,442.47 C113.50,440.70 113.80,438.75 114.11,437.14 C114.42,435.53 114.68,434.26 115.06,432.81 C115.45,431.36 115.86,429.34 116.42,428.44 C116.97,427.55 117.79,427.20 118.39,427.43 C119.00,427.67 119.58,429.16 120.04,429.84 C120.50,430.53 120.70,430.82 121.16,431.52 C121.62,432.22 122.32,433.59 122.81,434.04 C123.31,434.49 123.70,434.32 124.14,434.23 C124.58,434.14 125.02,433.85 125.45,433.49 C125.89,433.14 126.38,432.60 126.77,432.09 C127.15,431.57 127.43,431.10 127.76,430.39 C128.09,429.69 128.36,429.60 128.75,427.87 C129.14,426.14 129.39,423.15 130.10,420.00 C130.81,416.85 132.02,412.75 133.00,409.00 C133.98,405.25 135.02,400.95 136.00,397.50 C136.98,394.05 137.93,391.18 138.90,388.30 C139.87,385.42 140.75,383.17 141.80,380.20 C142.85,377.23 144.08,373.57 145.20,370.50 C146.32,367.43 147.47,364.55 148.50,361.80 C149.53,359.05 150.42,356.52 151.40,354.00 C152.38,351.48 153.23,349.20 154.40,346.70 C155.57,344.20 157.15,341.18 158.40,339.00 C159.65,336.82 160.73,335.02 161.90,333.60 C163.07,332.18 163.85,331.58 165.40,330.50 C166.95,329.42 169.43,327.58 171.20,327.10 C172.97,326.62 174.53,327.48 176.00,327.60 C177.47,327.72 178.50,328.02 180.00,327.80 C181.50,327.58 183.33,326.97 185.00,326.30 C186.67,325.63 188.33,324.62 190.00,323.80 C191.67,322.98 193.33,321.93 195.00,321.40 C196.67,320.87 198.50,320.50 200.00,320.60 C201.50,320.70 202.67,321.17 204.00,322.00 C205.33,322.83 206.67,324.10 208.00,325.60 C209.33,327.10 210.67,329.13 212.00,331.00 C213.33,332.87 214.67,335.00 216.00,336.80 C217.33,338.60 218.50,339.97 220.00,341.80 C221.50,343.63 223.33,346.23 225.00,347.80 C226.67,349.37 228.17,350.20 230.00,351.20 C231.83,352.20 233.90,353.05 236.00,353.80 C238.10,354.55 240.27,355.20 242.60,355.70 C244.93,356.20 247.10,356.42 250.00,356.80 C252.90,357.18 257.00,357.50 260.00,358.00 C263.00,358.50 265.07,358.83 268.00,359.80 C270.93,360.77 274.77,362.70 277.60,363.80 C280.43,364.90 282.67,365.80 285.00,366.40 C287.33,367.00 289.43,367.40 291.60,367.40 C293.77,367.40 295.68,366.87 298.00,366.40 C300.32,365.93 304.25,364.90 305.50,364.60" stroke="#d6c8eb" stroke-width="2.1"/>
<path d="M43.50,489.80 C46.25,489.78 55.25,489.78 60.00,489.70 C64.75,489.62 68.33,489.58 72.00,489.30 C75.67,489.02 79.33,488.63 82.00,488.00 C84.67,487.37 86.42,486.33 88.00,485.50 C89.58,484.67 90.50,483.68 91.50,483.00 C92.50,482.32 93.00,481.48 94.00,481.40 C95.00,481.32 96.20,482.18 97.50,482.50 C98.80,482.82 100.47,483.30 101.80,483.30 C103.13,483.30 104.20,483.15 105.50,482.50 C106.80,481.85 108.35,480.65 109.60,479.40 C110.85,478.15 111.82,477.07 113.00,475.00 C114.18,472.93 115.45,469.75 116.70,467.00 C117.95,464.25 119.20,461.33 120.50,458.50 C121.80,455.67 123.10,453.25 124.50,450.00 C125.90,446.75 127.42,442.68 128.90,439.00 C130.38,435.32 132.00,431.62 133.40,427.90 C134.80,424.18 136.18,420.42 137.30,416.70 C138.42,412.98 139.17,409.55 140.10,405.60 C141.03,401.65 141.93,397.97 142.90,393.00 C143.87,388.03 144.70,382.63 145.90,375.80 C147.10,368.97 148.83,358.47 150.10,352.00 C151.37,345.53 152.48,340.57 153.50,337.00 C154.52,333.43 155.37,331.85 156.20,330.60 C157.03,329.35 157.07,329.48 158.50,329.50 C159.93,329.52 162.68,330.65 164.80,330.70 C166.92,330.75 168.67,330.48 171.20,329.80 C173.73,329.12 177.70,327.08 180.00,326.60 C182.30,326.12 183.33,326.67 185.00,326.90 C186.67,327.13 186.25,326.95 190.00,328.00 C193.75,329.05 201.67,331.43 207.50,333.20 C213.33,334.97 219.15,336.55 225.00,338.60 C230.85,340.65 236.77,343.23 242.60,345.50 C248.43,347.77 254.17,350.00 260.00,352.20 C265.83,354.40 273.50,357.23 277.60,358.70 C281.70,360.17 281.70,360.73 284.60,361.00 C287.50,361.27 291.52,360.53 295.00,360.30 C298.48,360.07 303.75,359.72 305.50,359.60" stroke="#000" stroke-width="2.3" stroke-dasharray="4.3,3.2"/>
</g>
<rect x="43.10" y="289.50" width="261.60" height="215.40" fill="none" stroke="#111" stroke-width="1.45"/>
<line x1="40.60" y1="490.30" x2="43.10" y2="490.30" stroke="#111" stroke-width="1"/>
<text x="38.30" y="494.00" font-size="10.3" text-anchor="end" stroke="#111">0.0</text>
<line x1="40.60" y1="432.10" x2="43.10" y2="432.10" stroke="#111" stroke-width="1"/>
<text x="38.30" y="435.80" font-size="10.3" text-anchor="end" stroke="#111">0.4</text>
<line x1="40.60" y1="373.90" x2="43.10" y2="373.90" stroke="#111" stroke-width="1"/>
<text x="38.30" y="377.60" font-size="10.3" text-anchor="end" stroke="#111">0.8</text>
<line x1="40.60" y1="315.70" x2="43.10" y2="315.70" stroke="#111" stroke-width="1"/>
<text x="38.30" y="319.40" font-size="10.3" text-anchor="end" stroke="#111">1.2</text>
<line x1="41.60" y1="461.20" x2="43.10" y2="461.20" stroke="#111" stroke-width="1"/>
<line x1="41.60" y1="403.00" x2="43.10" y2="403.00" stroke="#111" stroke-width="1"/>
<line x1="41.60" y1="344.80" x2="43.10" y2="344.80" stroke="#111" stroke-width="1"/>
<line x1="51.30" y1="504.90" x2="51.30" y2="507.40" stroke="#111" stroke-width="1"/>
<text x="51.30" y="517.50" font-size="10.3" text-anchor="middle" stroke="#111">7700</text>
<line x1="132.80" y1="504.90" x2="132.80" y2="507.40" stroke="#111" stroke-width="1"/>
<text x="132.80" y="517.50" font-size="10.3" text-anchor="middle" stroke="#111">7720</text>
<line x1="214.30" y1="504.90" x2="214.30" y2="507.40" stroke="#111" stroke-width="1"/>
<text x="214.30" y="517.50" font-size="10.3" text-anchor="middle" stroke="#111">7740</text>
<line x1="295.80" y1="504.90" x2="295.80" y2="507.40" stroke="#111" stroke-width="1"/>
<text x="295.80" y="517.50" font-size="10.3" text-anchor="middle" stroke="#111">7760</text>
<line x1="92.05" y1="504.90" x2="92.05" y2="506.40" stroke="#111" stroke-width="1"/>
<line x1="173.55" y1="504.90" x2="173.55" y2="506.40" stroke="#111" stroke-width="1"/>
<line x1="255.05" y1="504.90" x2="255.05" y2="506.40" stroke="#111" stroke-width="1"/>
<text x="174.2" y="535" font-size="10.4" text-anchor="middle" stroke="#111">Energy (eV)</text>
<text transform="translate(20.5,396.8) rotate(-90)" font-size="10.7" text-anchor="middle" stroke="#111">Normalized intensity (arb. units)</text>
<line x1="47.4" y1="296.30" x2="55.5" y2="296.30" stroke="#000" stroke-width="2.4" stroke-dasharray="0.01,3.9" stroke-linecap="round"/>
<text x="62.9" y="300.50" font-size="10.5" stroke="#111">CoO</text>
<line x1="46.4" y1="310.07" x2="59.7" y2="310.07" stroke="#ee3b3b" stroke-width="2"/>
<text x="62.9" y="313.77" font-size="10.5" stroke="#111">CoPc</text>
<line x1="46.4" y1="323.34" x2="59.7" y2="323.34" stroke="#4aa0dc" stroke-width="2"/>
<text x="62.9" y="327.04" font-size="10.5" stroke="#111">CoPc/CNT(I)</text>
<line x1="46.4" y1="336.61" x2="59.7" y2="336.61" stroke="#5b3a9b" stroke-width="2"/>
<text x="62.9" y="340.31" font-size="10.5" stroke="#111">CoPc/CNT(II)</text>
<line x1="46.4" y1="349.88" x2="59.7" y2="349.88" stroke="#8966c6" stroke-width="2"/>
<text x="62.9" y="353.58" font-size="10.5" stroke="#111">CoPc/CNT(III)</text>
<line x1="46.4" y1="363.15" x2="59.7" y2="363.15" stroke="#ab8dd6" stroke-width="2"/>
<text x="62.9" y="366.85" font-size="10.5" stroke="#111">CoPc/CNT(IV)</text>
<line x1="46.4" y1="376.42" x2="59.7" y2="376.42" stroke="#d6c8eb" stroke-width="2"/>
<text x="62.9" y="380.12" font-size="10.5" stroke="#111">CoPc/CNT(V)</text>
<line x1="46.3" y1="389.89" x2="60.1" y2="389.89" stroke="#000" stroke-width="2.1" stroke-dasharray="5.4,3.6" />
<text x="62.9" y="393.39" font-size="10.5" stroke="#111">Co(NH<tspan font-size="7.3" dy="2.6">3</tspan><tspan dy="-2.6">)</tspan><tspan font-size="7.3" dy="2.6">6</tspan><tspan dy="-2.6">Cl</tspan><tspan font-size="7.3" dy="2.6">3</tspan></text>
<rect x="165.1" y="381" width="132.6" height="111.7" fill="#fff" stroke="none"/>
<g clip-path="url(#ci)" fill="none" stroke-linejoin="round">
<path d="M194.70,491.04 L201.40,467.50 L207.08,441.00 L216.05,406.69 L223.74,388.54 L231.64,388.54 L238.05,400.29 L246.41,414.17 L252.81,426.98 L260.29,436.59 L266.69,440.43 L272.03,440.86 L278.44,438.72 L284.84,435.52 L291.25,431.25 L297.65,424.84" stroke="#f23a3a" stroke-width="1.8"/>
<path d="M194.70,491.04 L201.40,467.50 L208.15,444.06 L216.69,416.30 L222.03,406.05 L229.50,400.71 L236.98,406.69 L243.20,414.60 L249.80,422.71 L254.80,427.50 L260.30,432.30 L267.80,435.10 L275.20,433.40 L283.80,428.00 L291.20,420.60 L297.70,412.00" stroke="#4aa0dc" stroke-width="1.8"/>
<path d="M191.07,491.04 L196.90,470.80 L202.80,450.50 L209.00,434.00 L217.76,417.37 L230.57,413.53 L241.25,422.71 L248.50,429.10 L259.20,438.70 L267.80,439.40 L276.30,436.60 L284.80,431.25 L291.25,424.80 L297.65,415.20" stroke="#d6c8eb" stroke-width="1.8"/>
<path d="M199.60,491.04 L207.10,461.10 L215.60,441.90 L224.20,430.80 L231.00,430.20 L239.10,437.65 L248.50,448.30 L261.40,459.00 L268.80,458.60 L277.40,454.70 L284.80,448.30 L291.25,441.90 L297.65,428.00" stroke="#ab8dd6" stroke-width="1.8"/>
<path d="M201.70,491.04 L207.60,474.00 L213.50,456.90 L222.00,442.35 L229.50,439.40 L239.10,445.10 L248.50,450.50 L260.30,456.40 L267.80,454.70 L277.40,450.50 L284.80,445.10 L291.25,437.65 L297.65,423.80" stroke="#8966c6" stroke-width="1.8"/>
<path d="M206.00,491.04 L214.56,469.70 L223.10,456.45 L230.57,454.10 L239.10,457.90 L248.50,464.35 L254.90,468.60 L262.40,470.10 L269.90,468.00 L277.40,463.30 L284.80,456.90 L291.25,448.30 L297.65,438.70" stroke="#5b3a9b" stroke-width="1.8"/>
</g>
<rect x="165.1" y="381" width="132.6" height="111.5" fill="none" stroke="#111" stroke-width="1.5"/>
<line x1="163.3" y1="431.30" x2="165.1" y2="431.30" stroke="#111" stroke-width="0.9"/>
<text x="162.3" y="434.40" font-size="8.6" text-anchor="end" stroke="#111">0.4</text>
<line x1="163.3" y1="486.70" x2="165.1" y2="486.70" stroke="#111" stroke-width="0.9"/>
<text x="162.3" y="489.80" font-size="8.6" text-anchor="end" stroke="#111">0.3</text>
<text x="165.50" y="501.9" font-size="8.6" text-anchor="middle" stroke="#111">7714</text>
<text x="218.40" y="501.9" font-size="8.6" text-anchor="middle" stroke="#111">7716</text>
<text x="271.40" y="501.9" font-size="8.6" text-anchor="middle" stroke="#111">7718</text>
<line x1="218.40" y1="492.7" x2="218.40" y2="494.3" stroke="#111" stroke-width="0.9"/>
<line x1="271.20" y1="492.7" x2="271.20" y2="494.3" stroke="#111" stroke-width="0.9"/>
</svg>
</body></html>
